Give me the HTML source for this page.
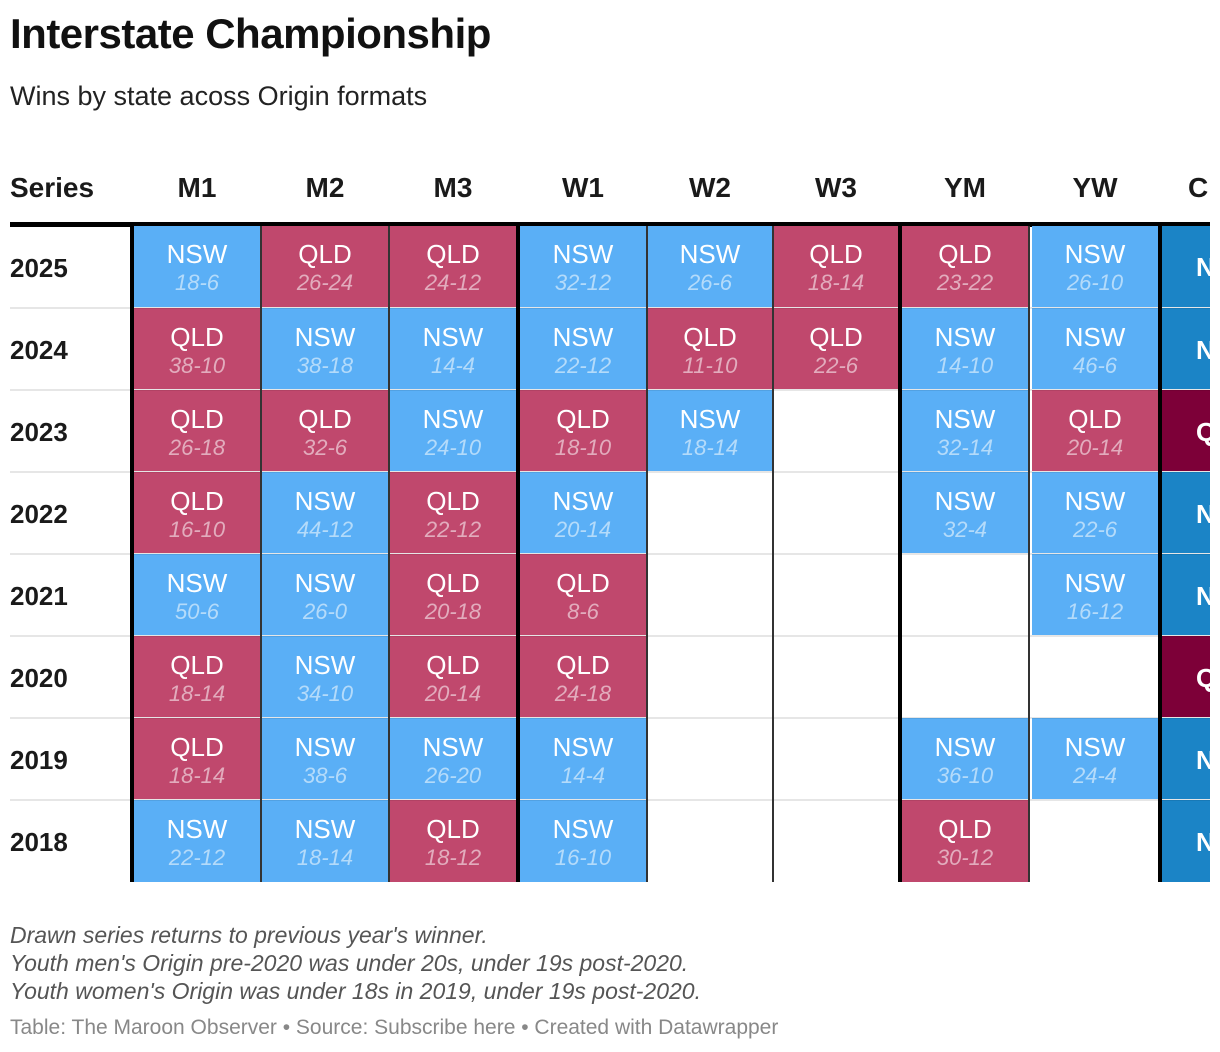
<!DOCTYPE html>
<html><head><meta charset="utf-8">
<style>
body{margin:0;background:#fff;font-family:"Liberation Sans",sans-serif;width:1220px;height:1052px;overflow:hidden;position:relative}
.abs{position:absolute}
.title{left:10px;top:10px;font-size:42px;font-weight:bold;color:#111;letter-spacing:-0.5px}
.sub{left:10px;top:81px;font-size:27px;color:#222}
.hdr{top:172px;font-size:28px;font-weight:bold;color:#1a1a1a;text-align:center;width:128px}
.yr{left:10px;font-size:26px;font-weight:bold;color:#1a1a1a;line-height:84px}
.cell{height:82px;text-align:center;color:#fff;box-sizing:border-box}
.team{font-size:26px;margin-top:13px;line-height:30px}
.score{font-size:22px;font-style:italic;line-height:28px;opacity:.55}
.note{left:10px;font-size:23px;font-style:italic;color:#555}
.credit{left:10px;top:1016px;font-size:21px;color:#888}
</style></head><body>
<div class="abs title">Interstate Championship</div>
<div class="abs sub">Wins by state acoss Origin formats</div>
<div id="table" class="abs" style="left:0;top:0;width:1210px;height:900px;overflow:hidden"></div>
<div class="abs note" style="top:922px">Drawn series returns to previous year's winner.</div>
<div class="abs note" style="top:950px">Youth men's Origin pre-2020 was under 20s, under 19s post-2020.</div>
<div class="abs note" style="top:978px">Youth women's Origin was under 18s in 2019, under 19s post-2020.</div>
<div class="abs credit">Table: The Maroon Observer • Source: Subscribe here • Created with Datawrapper</div>
<script>
const columns=["M1","M2","M3","W1","W2","W3","YM","YW","C"];
const years=["2025","2024","2023","2022","2021","2020","2019","2018"];
const winners=[
["NSW","QLD","QLD","NSW","NSW","QLD","QLD","NSW","NSW"],
["QLD","NSW","NSW","NSW","QLD","QLD","NSW","NSW","NSW"],
["QLD","QLD","NSW","QLD","NSW","","NSW","QLD","QLD"],
["QLD","NSW","QLD","NSW","","","NSW","NSW","NSW"],
["NSW","NSW","QLD","QLD","","","","NSW","NSW"],
["QLD","NSW","QLD","QLD","","","","","QLD"],
["QLD","NSW","NSW","NSW","","","NSW","NSW","NSW"],
["NSW","NSW","QLD","NSW","","","QLD","","NSW"]];
const scores=[
["18-6","26-24","24-12","32-12","26-6","18-14","23-22","26-10",""],
["38-10","38-18","14-4","22-12","11-10","22-6","14-10","46-6",""],
["26-18","32-6","24-10","18-10","18-14","","32-14","20-14",""],
["16-10","44-12","22-12","20-14","","","32-4","22-6",""],
["50-6","26-0","20-18","8-6","","","","16-12",""],
["18-14","34-10","20-14","24-18","","","","",""],
["18-14","38-6","26-20","14-4","","","36-10","24-4",""],
["22-12","18-14","18-12","16-10","","","30-12","",""]];
const T=document.getElementById('table');
const lefts=[134,262,390,520,648,774,902,1032,1162];
const widths=[126,126,126,126,124,124,126,126,60];
const borders=[[130,4],[260,2],[388,2],[516,4],[646,2],[772,2],[898,4],[1028,2],[1158,4]];
const top0=226,rh=82;
function add(cls,style,html){const d=document.createElement('div');d.className='abs '+cls;d.setAttribute('style',style);if(html!==undefined)d.innerHTML=html;T.appendChild(d);return d;}
let h=add('hdr','left:10px;width:auto;text-align:left','Series');


columns.forEach((c,i)=>{const e=add('hdr','left:'+(lefts[i]+widths[i]/2-64)+'px;'+(i==8?'width:auto;left:1188px;':''),c);

});
let hl=add('','left:10px;top:222px;width:1200px;height:5px;background:#000');


years.forEach((y,r)=>{const ty=top0+r*rh;
 if(r>0){const s=add('','left:10px;top:'+(ty-1)+'px;width:1200px;height:2px;background:#e6e6e6');
 
 }
 const yl=add('yr','top:'+ty+'px',y);
 
 
 columns.forEach((c,i)=>{const w=winners[r][i];if(!w)return;
  let bg;if(i==8)bg=w=="NSW"?"#1b84c6":"#7d0038";else bg=w=="NSW"?"#5aaff6":"#c0486d";
  let inner;
  if(i==8)inner='<div style="font-size:26px;font-weight:bold;line-height:82px;text-align:left;padding-left:34px">'+w[0]+'</div>';
  else inner='<div class="team">'+w+'</div><div class="score">'+scores[r][i]+'</div>';
  const cell=add('cell','left:'+lefts[i]+'px;top:'+ty+'px;width:'+widths[i]+'px;height:'+rh+'px;background:'+bg+';'+(r>0?'border-top:1px solid rgba(0,0,0,0.08)':''),inner);
  
  
 });
});
borders.forEach(([x,w])=>{const b=add('','left:'+x+'px;top:226px;width:'+w+'px;height:656px;background:'+(w>2?'#000':'#333'));

});
</script>
</body></html>
